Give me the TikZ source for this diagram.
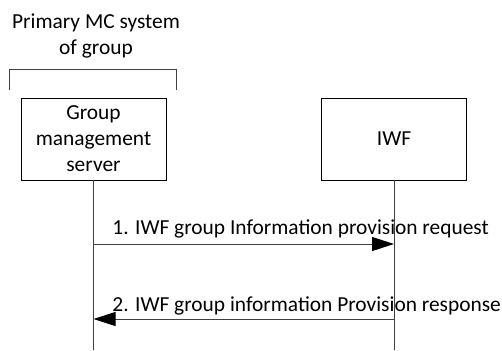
\documentclass[tikz,border=0pt]{standalone}
\usepackage{fontspec}
\setmainfont{Carlito}
\usetikzlibrary{arrows.meta}

\begin{document}
\begin{tikzpicture}[x=1pt,y=-1pt,line width=0.9pt,
  font=\fontsize{21.4}{26}\selectfont,
  entity/.style={draw,minimum width=145pt,minimum height=82pt,align=center,inner sep=0pt},
  msg/.style={-{Triangle[length=22pt,width=14pt,color=black,fill=black]},draw=black!75}]
  \useasboundingbox (0,0) rectangle (502,350);

  % Draw the entities
  \node[entity] (gms) at (93.5,139) {Group\\management\\server};
  \node[entity] (iwf) at (394,139) {IWF};
  \node[align=center] (sys) at (96,36) {Primary MC system\\of group};

  % Bracket over the primary system
  \coordinate (B1) at (9,90);
  \coordinate (B2) at (176,90);
  \draw[draw=black!75] (B1) -- ++(0,-21) -| (B2);

  % Lifelines
  \coordinate (gmsEnd) at (gms.south |- 0,350);
  \coordinate (iwfEnd) at (iwf.south |- 0,350);
  \draw[draw=black!75] (gms.south) -- (gmsEnd);
  \draw[draw=black!75] (iwf.south) -- (iwfEnd);

  % Messages
  \coordinate (m1a) at (gms.south |- 0,244);
  \coordinate (m1b) at (iwf.south |- 0,244);
  \coordinate (m2a) at (iwf.south |- 0,319);
  \coordinate (m2b) at (gms.south |- 0,319);
  \draw[msg] (m1a) -- (m1b);
  \draw[msg] (m2a) -- (m2b);
  \node[anchor=base west,inner sep=0pt] (t1) at (112,234) {1. IWF group Information provision request};
  \node[anchor=base west,inner sep=0pt] (t2) at (112,311) {2. IWF group information Provision response};
\end{tikzpicture}
\end{document}
